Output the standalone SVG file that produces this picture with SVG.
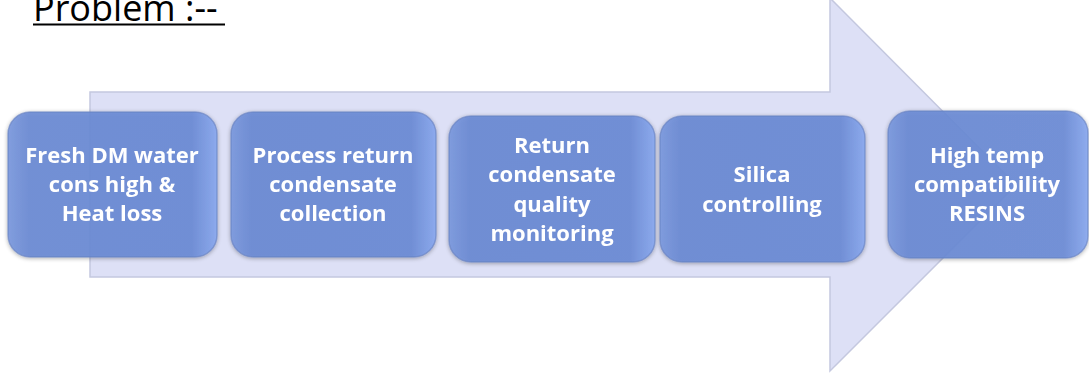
<svg xmlns="http://www.w3.org/2000/svg" width="1089" height="375" viewBox="0 0 1089 375">
<defs>
<linearGradient id="bx" x1="0" y1="0" x2="1" y2="0">
<stop offset="0" stop-color="#7a98de"/>
<stop offset="0.1" stop-color="#6a8ad4"/>
<stop offset="0.88" stop-color="#6b8bd6"/>
<stop offset="1" stop-color="#88a8f0"/>
</linearGradient>
<filter id="sh" x="-10%" y="-10%" width="120%" height="120%">
<feGaussianBlur in="SourceAlpha" stdDeviation="2"/>
<feOffset dx="0" dy="1" result="b"/>
<feComponentTransfer><feFuncA type="linear" slope="0.35"/></feComponentTransfer>
<feMerge><feMergeNode/><feMergeNode in="SourceGraphic"/></feMerge>
</filter>
</defs>
<style>
.box{fill:url(#bx);fill-opacity:0.9;stroke:#6680c0;stroke-opacity:0.6;stroke-width:1.5}
.t{font-family:"Open Sans","Liberation Sans",sans-serif;font-weight:bold;font-size:22px;fill:#ffffff;text-anchor:middle}
.title{font-family:"Open Sans","Liberation Sans",sans-serif;font-size:36px;fill:#000000}
</style>
<rect width="1089" height="375" fill="#ffffff"/>
<text class="title" x="33" y="21">Problem :--</text>
<line x1="33" y1="24.5" x2="225" y2="24.5" stroke="#000" stroke-width="2"/>
<g id="connectors">
<polygon points="90,92 830,92 830,-2 1016,185 830,371 830,277 90,277" fill="#dde0f6" stroke="#c4c8df" stroke-width="1.5"/>
</g>
<g id="n1" filter="url(#sh)">
<rect class="box" x="8" y="112" width="209" height="145" rx="22"/>
<text class="t" x="112" y="163">Fresh DM water</text>
<text class="t" x="112" y="192">cons high &amp;</text>
<text class="t" x="112" y="221">Heat loss</text>
</g>
<g id="n2" filter="url(#sh)">
<rect class="box" x="231" y="112" width="205" height="145" rx="22"/>
<text class="t" x="333" y="163">Process return</text>
<text class="t" x="333" y="192">condensate</text>
<text class="t" x="333" y="221">collection</text>
</g>
<g id="n3" filter="url(#sh)">
<rect class="box" x="449" y="116" width="206" height="146" rx="22"/>
<text class="t" x="552" y="153">Return</text>
<text class="t" x="552" y="182">condensate</text>
<text class="t" x="552" y="212">quality</text>
<text class="t" x="552" y="241">monitoring</text>
</g>
<g id="n4" filter="url(#sh)">
<rect class="box" x="660" y="116" width="205" height="146" rx="22"/>
<text class="t" x="762" y="182">Silica</text>
<text class="t" x="762" y="212">controlling</text>
</g>
<g id="n5" filter="url(#sh)">
<rect class="box" x="888" y="111" width="200" height="147" rx="22"/>
<text class="t" x="987" y="163">High temp</text>
<text class="t" x="987" y="192">compatibility</text>
<text class="t" x="987" y="221">RESINS</text>
</g>
</svg>
